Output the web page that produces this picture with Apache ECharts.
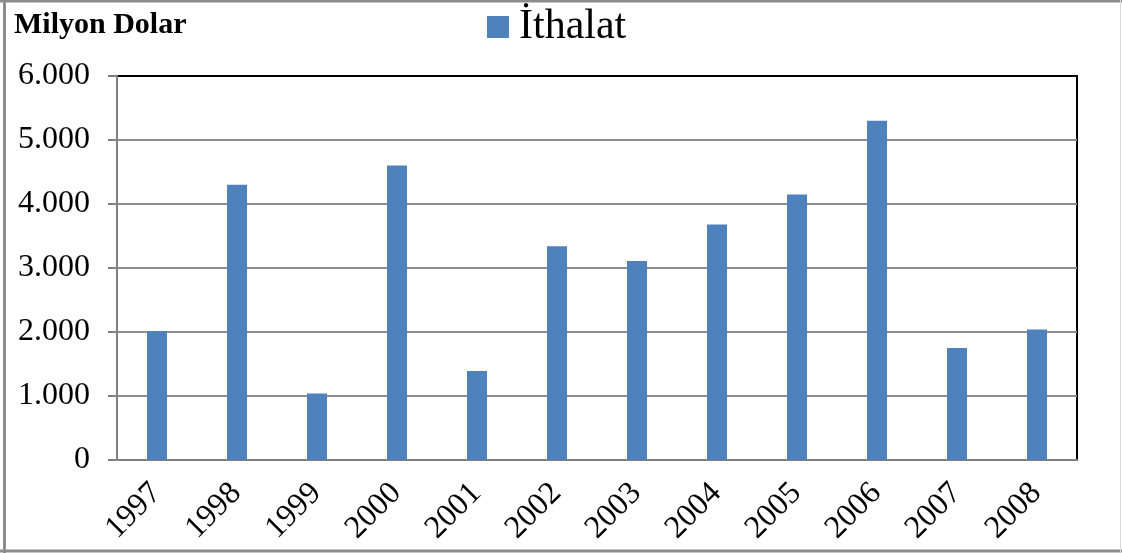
<!DOCTYPE html>
<html>
<head>
<meta charset="utf-8">
<script src="https://cdn.jsdelivr.net/npm/echarts@6/dist/echarts.min.js"></script>
<style>
html,body{margin:0;padding:0;background:#fff;}
#c{width:1122px;height:553px;}
</style>
</head>
<body>
<div id="c"></div>
<script>
const categories = ['1997','1998','1999','2000','2001','2002','2003','2004','2005','2006','2007','2008'];
const ithalat = [2015, 4300, 1040, 4600, 1390, 3340, 3110, 3680, 4150, 5300, 1750, 2040];
const yTicks = [0, 1000, 2000, 3000, 4000, 5000, 6000];
const seriesName = 'İthalat';
const unitTitle = 'Milyon Dolar';

const FONT = '"Liberation Serif", "Times New Roman", serif';
const chart = echarts.init(document.getElementById('c'), null, {renderer: 'canvas'});

function fmt(v) {
  return String(v).replace(/\B(?=(\d{3})+(?!\d))/g, '.');
}

chart.setOption({
  animation: false,
  backgroundColor: '#fff',
  title: {
    text: unitTitle,
    left: 14,
    top: 10,
    padding: 0,
    textStyle: {fontFamily: FONT, fontWeight: 'bold', fontSize: 30, color: '#000'}
  },
  legend: {
    data: [seriesName],
    left: 487,
    top: 6,
    padding: 0,
    icon: 'rect',
    itemWidth: 22,
    itemHeight: 22,
    textStyle: {fontFamily: FONT, fontSize: 42, color: '#000', padding: [0, 0, 0, 5]}
  },
  grid: {
    left: 117, right: 45, top: 76, bottom: 93,
    show: true,
    borderColor: '#000',
    borderWidth: 2,
    containLabel: false
  },
  xAxis: {
    type: 'category',
    data: categories,
    boundaryGap: true,
    axisLine: {show: true, lineStyle: {color: '#808080', width: 2}},
    axisTick: {show: false},
    axisLabel: {
      interval: 0,
      rotate: 45,
      margin: 5,
      align: 'right',
      verticalAlign: 'top',
      padding: [0, 17, 0, 0],
      fontFamily: FONT,
      fontSize: 32,
      color: '#000'
    },
    splitLine: {show: false}
  },
  yAxis: {
    type: 'value',
    min: yTicks[0],
    max: yTicks[yTicks.length - 1],
    interval: 1000,
    axisLine: {show: true, lineStyle: {color: '#808080', width: 2}},
    axisTick: {show: true, length: 9, lineStyle: {color: '#808080', width: 2}},
    axisLabel: {
      margin: 27,
      fontFamily: FONT,
      fontSize: 32,
      color: '#000',
      formatter: fmt
    },
    splitLine: {show: true, showMaxLine: false, lineStyle: {color: '#8c8c8c', width: 2}}
  },
  series: [{
    name: seriesName,
    type: 'bar',
    data: ithalat,
    barWidth: 20,
    itemStyle: {color: '#4F81BD'}
  }],
  graphic: [
    {type: 'line', shape: {x1: 4.5, y1: 0, x2: 4.5, y2: 553}, style: {stroke: '#8c8c8c', lineWidth: 3}, z: 100},
    {type: 'line', shape: {x1: 0, y1: 1, x2: 1122, y2: 1}, style: {stroke: '#8c8c8c', lineWidth: 3}, z: 100},
    {type: 'line', shape: {x1: 0, y1: 551, x2: 1122, y2: 551}, style: {stroke: '#8c8c8c', lineWidth: 3}, z: 100},
    {type: 'line', shape: {x1: 1120.5, y1: 0, x2: 1120.5, y2: 553}, style: {stroke: '#d9d9d9', lineWidth: 1}, z: 100}
  ]
});
</script>
</body>
</html>
